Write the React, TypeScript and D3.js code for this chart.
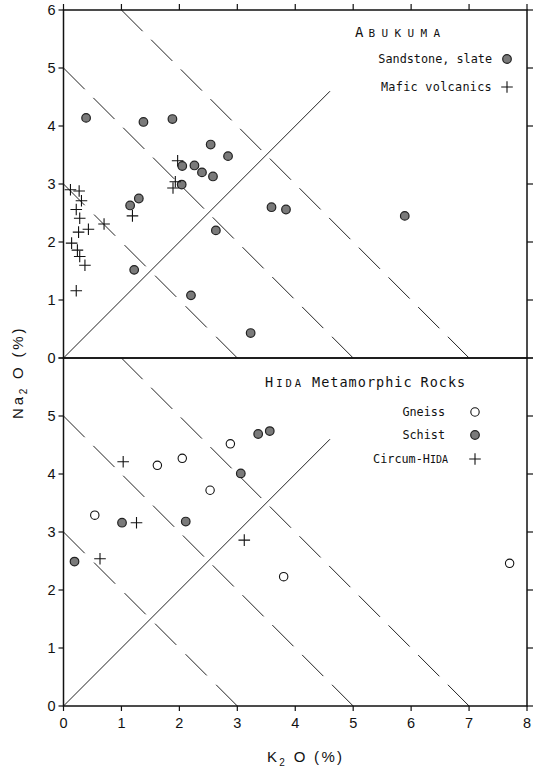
import React from "react";
import * as d3 from "d3";

// Abukuma (top panel)
const sandstoneSlate: [number, number][] = [
  [0.39, 4.14], [1.38, 4.07], [1.88, 4.12], [2.05, 3.31], [2.26, 3.32], [2.04, 2.99],
  [2.54, 3.68], [2.84, 3.48], [2.39, 3.2], [2.58, 3.13], [3.59, 2.6], [3.84, 2.56],
  [2.63, 2.2], [2.2, 1.08], [1.15, 2.63], [1.3, 2.75], [1.22, 1.52], [5.89, 2.45], [3.23, 0.43],
];
const maficVolcanics: [number, number][] = [
  [1.97, 3.4], [1.93, 3.04], [1.89, 2.93], [0.12, 2.9], [0.27, 2.88], [0.31, 2.71],
  [0.22, 2.56], [0.28, 2.41], [0.7, 2.31], [0.43, 2.22], [0.26, 2.17], [0.14, 1.98],
  [0.24, 1.86], [0.28, 1.75], [0.37, 1.6], [0.22, 1.16], [1.19, 2.45],
];

// Hida (bottom panel)
const gneiss: [number, number][] = [
  [0.54, 3.29], [1.62, 4.15], [2.05, 4.27], [2.88, 4.52], [2.53, 3.72], [3.8, 2.23], [7.7, 2.46],
];
const schist: [number, number][] = [
  [0.19, 2.49], [1.01, 3.16], [2.11, 3.18], [3.06, 4.01], [3.36, 4.69], [3.56, 4.74],
];
const circumHida: [number, number][] = [
  [1.03, 4.21], [1.26, 3.16], [0.63, 2.54], [3.12, 2.86],
];

const xTicks = [0, 1, 2, 3, 4, 5, 6, 7, 8];
const yTicks = [0, 1, 2, 3, 4, 5, 6];
const dashedSums = [3, 5, 7];
const solidEnd = 4.6;

const W = 544;
const H = 771;
const x = d3.scaleLinear().domain([0, 8]).range([63.5, 527]);
const yTop = d3.scaleLinear().domain([0, 6]).range([358, 10]);
const yBot = d3.scaleLinear().domain([0, 6]).range([706, 358]);

const lbl = "'DejaVu Sans Mono', monospace";
const num = "'Liberation Sans', Arial, sans-serif";

// spread dashes so both ends of a line finish on a dash
function dashFor(len: number, dash = 30, gap = 11) {
  const n = Math.max(2, Math.round((len + gap) / (dash + gap)));
  const g = (len - n * dash) / (n - 1);
  return `${dash},${g}`;
}

function Filled({ cx, cy }: { cx: number; cy: number }) {
  return <circle cx={cx} cy={cy} r={4.3} fill="#7a7a7a" stroke="#222" strokeWidth={1.2} />;
}
function Open({ cx, cy }: { cx: number; cy: number }) {
  return <circle cx={cx} cy={cy} r={4.2} fill="#fff" stroke="#111" strokeWidth={1.1} />;
}
function Plus({ cx, cy }: { cx: number; cy: number }) {
  const s = 5.8;
  return (
    <path d={`M${cx - s},${cy}H${cx + s}M${cx},${cy - s}V${cy + s}`} stroke="#111" strokeWidth={1.1} fill="none" />
  );
}

function Panel({ y, bottom }: { y: d3.ScaleLinear<number, number>; bottom: boolean }) {
  const line = d3.line<[number, number]>().x((d) => x(d[0])).y((d) => y(d[1]));
  const x0 = x(0), x1 = x(8), y0 = y(0), y1 = y(6);
  return (
    <g>
      {/* reference lines */}
      {dashedSums.map((s) => {
        const a: [number, number] = [Math.max(0, s - 6), Math.min(6, s)];
        const b: [number, number] = [s, 0];
        const len = Math.hypot(x(b[0]) - x(a[0]), y(b[1]) - y(a[1]));
        return (
          <path key={s} d={line([a, b]) || ""} stroke="#222" strokeWidth={1} fill="none" strokeDasharray={dashFor(len)} />
        );
      })}
      <path d={line([[0, 0], [solidEnd, solidEnd]]) || ""} stroke="#222" strokeWidth={1} fill="none" />
      {/* frame */}
      <rect x={x0} y={y1} width={x1 - x0} height={y0 - y1} fill="none" stroke="#111" strokeWidth={1.5} />
      {/* left + right ticks */}
      {yTicks.map((t) => (
        <g key={t}>
          <line x1={x0 - 5} x2={x0} y1={y(t)} y2={y(t)} stroke="#111" strokeWidth={1.2} />
          <line x1={x1} x2={x1 + 6} y1={y(t)} y2={y(t)} stroke="#111" strokeWidth={1.2} />
          {(bottom ? t < 6 : true) && (
            <text x={x0 - 8} y={y(t) + 5} textAnchor="end" fontFamily={num} fontSize={14.5} fill="#111">{t}</text>
          )}
        </g>
      ))}
      {/* top ticks (upper panel) or bottom ticks + labels (lower panel) */}
      {xTicks.map((t) =>
        bottom ? (
          <g key={t}>
            <line x1={x(t)} x2={x(t)} y1={y0} y2={y0 + 5} stroke="#111" strokeWidth={1.2} />
            <text x={x(t)} y={y0 + 21.5} textAnchor="middle" fontFamily={num} fontSize={14.5} fill="#111">{t}</text>
          </g>
        ) : (
          <line key={t} x1={x(t)} x2={x(t)} y1={y1} y2={y1 - 6} stroke="#111" strokeWidth={1.2} />
        )
      )}
    </g>
  );
}

export default function App() {
  return (
    <svg width={W} height={H} style={{ position: "absolute", left: 0, top: 0, background: "#fff" }}>
      <rect width={W} height={H} fill="#fff" />
      <Panel y={yTop} bottom={false} />
      <Panel y={yBot} bottom={true} />

      {sandstoneSlate.map((d, i) => <Filled key={"s" + i} cx={x(d[0])} cy={yTop(d[1])} />)}
      {maficVolcanics.map((d, i) => <Plus key={"m" + i} cx={x(d[0])} cy={yTop(d[1])} />)}
      {gneiss.map((d, i) => <Open key={"g" + i} cx={x(d[0])} cy={yBot(d[1])} />)}
      {schist.map((d, i) => <Filled key={"c" + i} cx={x(d[0])} cy={yBot(d[1])} />)}
      {circumHida.map((d, i) => <Plus key={"h" + i} cx={x(d[0])} cy={yBot(d[1])} />)}

      {/* top legend */}
      <text x={355} y={37} fontFamily={lbl} fill="#111">
        <tspan fontSize={14}>A</tspan>
        <tspan fontSize={11} letterSpacing={6.4} dx={5}>BUKUMA</tspan>
      </text>
      <text x={492} y={63} textAnchor="end" fontFamily={lbl} fontSize={11.8} fill="#111">Sandstone, slate</text>
      <Filled cx={507} cy={59} />
      <text x={492} y={91} textAnchor="end" fontFamily={lbl} fontSize={11.8} fill="#111" letterSpacing={0.3}>Mafic volcanics</text>
      <Plus cx={507} cy={87} />

      {/* bottom legend */}
      <text x={265} y={387} fontFamily={lbl} fill="#111">
        <tspan fontSize={13.5}>H</tspan>
        <tspan fontSize={10.5} letterSpacing={3} dx={3}>IDA</tspan>
        <tspan fontSize={13.5} letterSpacing={1} dx={8}>Metamorphic</tspan>
        <tspan fontSize={13.5} letterSpacing={1} dx={8}>Rocks</tspan>
      </text>
      <text x={445} y={416} textAnchor="end" fontFamily={lbl} fontSize={11.8} fill="#111">Gneiss</text>
      <Open cx={475} cy={412} />
      <text x={445} y={439} textAnchor="end" fontFamily={lbl} fontSize={11.8} fill="#111">Schist</text>
      <Filled cx={475} cy={435} />
      <text x={448} y={463} textAnchor="end" fontFamily={lbl} fontSize={11.8} fill="#111">
        <tspan>Circum-H</tspan><tspan fontSize={10}>IDA</tspan>
      </text>
      <Plus cx={475} cy={459} />

      {/* axis titles */}
      <text x={267} y={762} fontFamily={num} fontSize={15} fill="#111" letterSpacing={2.3}>
        K<tspan fontSize={10} dy={3.5}>2</tspan><tspan dy={-3.5}> O (%)</tspan>
      </text>
      <text transform="translate(23,419) rotate(-90)" fontFamily={num} fontSize={15} fill="#111" letterSpacing={2.8}>
        Na<tspan fontSize={10} dy={4}>2</tspan><tspan dy={-4}> O (%)</tspan>
      </text>
    </svg>
  );
}
